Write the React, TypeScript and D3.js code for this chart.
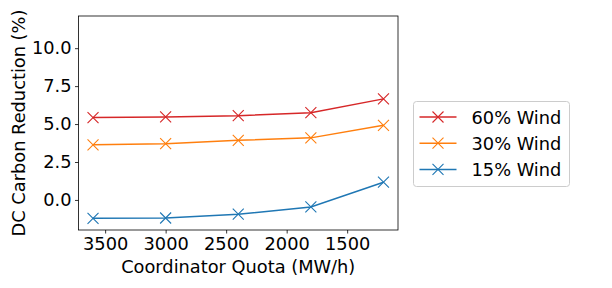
import { useEffect, useRef } from "react";
import * as d3 from "d3";

const quotas = [3600, 3000, 2400, 1800, 1200];
const wind60 = [5.43, 5.47, 5.55, 5.75, 6.66];
const wind30 = [3.63, 3.71, 3.93, 4.09, 4.92];
const wind15 = [-1.21, -1.19, -0.94, -0.46, 1.17];
const seriesNames = ["60% Wind", "30% Wind", "15% Wind"];
const seriesColors = ["#d62728", "#ff7f0e", "#1f77b4"];
const xTicks = [3500, 3000, 2500, 2000, 1500];
const yTicks = [0, 2.5, 5, 7.5, 10];

const W = 612;
const H = 288;
const FONT = "'DejaVu Sans', sans-serif";
const FS = "17.8px";

export default function App() {
  const svgRef = useRef<SVGSVGElement>(null);

  useEffect(() => {
    const svg = d3.select(svgRef.current);
    svg.selectAll("*").remove();

    const margin = { top: 16, right: 214, bottom: 58, left: 78.5 };
    const width = W - margin.left - margin.right;
    const height = H - margin.top - margin.bottom;

    const g = svg.append("g").attr("transform", `translate(${margin.left},${margin.top})`);

    const x = d3.scaleLinear().domain([3720, 1080]).range([0, width]);
    const y = d3.scaleLinear().domain([-1.98, 12.12]).range([height, 0]);

    // axes
    const xAxis = g
      .append("g")
      .attr("transform", `translate(0,${height})`)
      .call(d3.axisBottom(x).tickValues(xTicks).tickSize(3.5).tickPadding(3.5).tickFormat(d3.format("d")));
    const yAxis = g
      .append("g")
      .call(d3.axisLeft(y).tickValues(yTicks).tickSize(3.5).tickPadding(3.5).tickFormat(d3.format(".1f")));

    [xAxis, yAxis].forEach((a) => {
      a.attr("font-family", FONT).attr("font-size", FS).attr("color", "#000");
      a.select(".domain").remove();
      a.selectAll("line").attr("stroke", "#000").attr("stroke-width", 0.8);
    });

    g.append("rect")
      .attr("width", width)
      .attr("height", height)
      .attr("fill", "none")
      .attr("stroke", "#000")
      .attr("stroke-width", 0.8);

    // labels
    g.append("text")
      .attr("x", width / 2)
      .attr("y", height + 43)
      .attr("text-anchor", "middle")
      .attr("font-family", FONT)
      .attr("font-size", FS)
      .text("Coordinator Quota (MW/h)");

    g.append("text")
      .attr("transform", "rotate(-90)")
      .attr("x", -height / 2)
      .attr("y", -margin.left + 24.5)
      .attr("text-anchor", "middle")
      .attr("font-family", FONT)
      .attr("font-size", FS)
      .text("DC Carbon Reduction (%)");

    const data = [wind60, wind30, wind15];
    const line = d3
      .line<number>()
      .x((_, i) => x(quotas[i]))
      .y((d) => y(d));

    const cross = (sel: d3.Selection<SVGGElement, unknown, null, undefined>, cx: number, cy: number, color: string) => {
      const r = 5.5;
      sel.append("path")
        .attr("d", `M${cx - r},${cy - r}L${cx + r},${cy + r}M${cx - r},${cy + r}L${cx + r},${cy - r}`)
        .attr("stroke", color)
        .attr("stroke-width", 1.1)
        .attr("fill", "none");
    };

    data.forEach((vals, si) => {
      const color = seriesColors[si];
      g.append("path")
        .datum(vals)
        .attr("fill", "none")
        .attr("stroke", color)
        .attr("stroke-width", 1.5)
        .attr("d", line);
      const mg = g.append("g");
      vals.forEach((v, i) => cross(mg, x(quotas[i]), y(v), color));
    });

    // legend
    const lg = svg.append("g").attr("transform", "translate(413.5,101.5)");
    lg.append("rect")
      .attr("width", 156)
      .attr("height", 85)
      .attr("rx", 3)
      .attr("fill", "#fff")
      .attr("fill-opacity", 0.8)
      .attr("stroke", "#cccccc")
      .attr("stroke-width", 1);
    seriesNames.forEach((name, i) => {
      const ry = 15.5 + i * 26.2;
      const row = lg.append("g");
      row.append("line")
        .attr("x1", 6)
        .attr("x2", 43)
        .attr("y1", ry)
        .attr("y2", ry)
        .attr("stroke", seriesColors[i])
        .attr("stroke-width", 1.5);
      cross(row, 24.5, ry, seriesColors[i]);
      row.append("text")
        .attr("x", 58)
        .attr("y", ry + 6.5)
        .attr("font-family", FONT)
        .attr("font-size", FS)
        .attr("fill", "#000")
        .text(name);
    });
  }, []);

  return (
    <div style={{ position: "absolute", left: 0, top: 0 }}>
      <svg ref={svgRef} width={W} height={H} style={{ display: "block", background: "#fff" }} />
    </div>
  );
}
